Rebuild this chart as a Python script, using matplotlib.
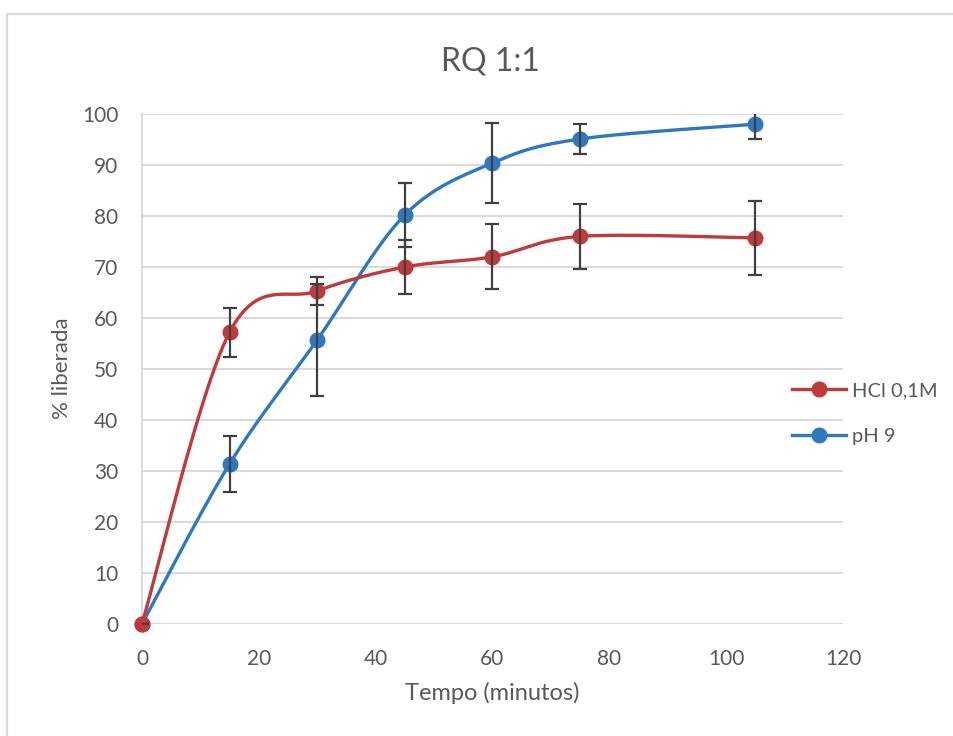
import numpy as np
import matplotlib
matplotlib.use("Agg")
import matplotlib.pyplot as plt
from matplotlib.patches import Rectangle
from matplotlib.lines import Line2D

plt.rcParams['font.family'] = ['Lato', 'DejaVu Sans']

# Release data (time in minutes, % released, standard deviation)
tempo = [0, 15, 30, 45, 60, 75, 105]
hcl = [0, 57.2, 65.3, 70.0, 72.0, 76.0, 75.7]
hcl_err = [0, 4.8, 2.7, 5.3, 6.4, 6.3, 7.3]
ph9 = [0, 31.4, 55.7, 80.2, 90.4, 95.1, 98.0]
ph9_err = [0, 5.5, 11.0, 6.3, 7.9, 3.0, 2.9]

series_names = ['HCl 0,1M', 'pH 9']
colors = ['#C0393B', '#2E78C0']
x_ticks = [0, 20, 40, 60, 80, 100, 120]
y_ticks = [0, 10, 20, 30, 40, 50, 60, 70, 80, 90, 100]


def smooth(x, y, n=40):
    """Catmull-Rom style Bezier smoothing through every point."""
    p = np.column_stack([x, y]).astype(float)
    pts = np.vstack([p[0], p, p[-1]])
    out = []
    t = np.linspace(0, 1, n)[:, None]
    for i in range(1, len(pts) - 2):
        p0, p1, p2, p3 = pts[i - 1], pts[i], pts[i + 1], pts[i + 2]
        c1 = p1 + (p2 - p0) / 6.0
        c2 = p2 - (p3 - p1) / 6.0
        seg = ((1 - t) ** 3) * p1 + 3 * ((1 - t) ** 2) * t * c1 \
            + 3 * (1 - t) * t ** 2 * c2 + t ** 3 * p2
        out.append(seg if i == 1 else seg[1:])
    s = np.vstack(out)
    return s[:, 0], s[:, 1]


fig = plt.figure(figsize=(9.54, 7.36), dpi=100)
ax = fig.add_axes([0.1488, 0.1522, 0.7348, 0.6929])

text_c = '#595959'
grid_c = '#D9D9D9'

for vals, errs, col in [(ph9, ph9_err, colors[1]), (hcl, hcl_err, colors[0])]:
    sx, sy = smooth(tempo, vals)
    ln, = ax.plot(sx, sy, color=col, lw=2.4, zorder=3, solid_capstyle='round')
    ln.set_clip_on(False)
    mk, = ax.plot(tempo, vals, 'o', color=col, ms=10.5, zorder=4)
    mk.set_clip_on(False)
    ax.errorbar(tempo, vals, yerr=errs, fmt='none', ecolor='#404040',
                elinewidth=1.6, capsize=5, capthick=1.6, zorder=5)

ax.set_xlim(0, 120)
ax.set_ylim(0, 100)
ax.set_xticks(x_ticks)
ax.set_yticks(y_ticks)
ax.yaxis.grid(True, color=grid_c, lw=1.4)
ax.set_axisbelow(True)
for s in ['top', 'right', 'bottom']:
    ax.spines[s].set_visible(False)
ax.spines['left'].set_color(grid_c)
ax.spines['left'].set_linewidth(1.4)
ax.tick_params(length=0, labelsize=15, colors=text_c)
ax.tick_params(axis='y', pad=17)
ax.tick_params(axis='x', pad=18)

fig.text(0.514, 0.916, 'RQ 1:1', ha='center', va='center', fontsize=23,
         color=text_c)
fig.text(0.065, 0.5, '% liberada', ha='center', va='center', rotation=90,
         fontsize=16, color=text_c)
fig.text(0.516, 0.058, 'Tempo (minutos)', ha='center', va='center',
         fontsize=17, color=text_c)

handles = [Line2D([0], [0], color=c, lw=2.4, marker='o', ms=10.5) for c in colors]
fig.legend(handles, series_names, loc='center left', bbox_to_anchor=(0.811, 0.438),
           frameon=False, fontsize=14.5, handlelength=2.7, labelspacing=1.45,
           handletextpad=0.3, labelcolor=text_c)

fig.patches.append(Rectangle((0.007, -0.1), 1.2, 1.081, transform=fig.transFigure,
                             fill=False, edgecolor='#D9D9D9', lw=1.6))

fig.savefig('out.png', dpi=100, facecolor='white')
